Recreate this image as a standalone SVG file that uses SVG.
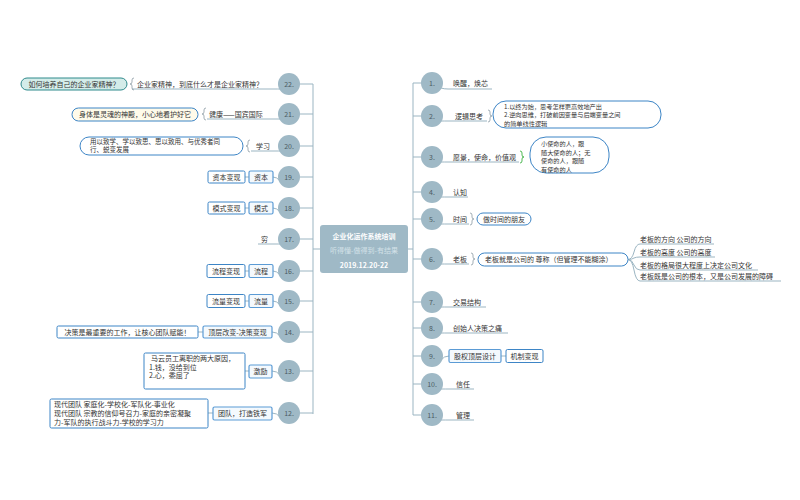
<svg xmlns="http://www.w3.org/2000/svg" width="800" height="500" viewBox="0 0 800 500">
<style>
text{font-family:"Noto Sans CJK SC","Liberation Sans",sans-serif;font-size:7px;fill:#333;}
.sm{font-size:6.5px;}
.xs{font-size:6.2px;}
.num{fill:#4c5b63;font-size:7px;text-anchor:middle;}
.c{fill:#9fb9c6;}
.ln{fill:none;stroke:#9bb5c2;stroke-width:1;}
.br{fill:none;stroke:#8a9aa3;stroke-width:0.8;}
.gbr{fill:none;stroke:#3cb043;stroke-width:0.9;}
.box{fill:#f4f9fd;stroke:#5b9bd5;stroke-width:1.2;}
.cbox{fill:#fff;stroke:#3d85c6;stroke-width:1;}
.bub{fill:#fff;stroke:#3d85c6;stroke-width:1;}
.mid{text-anchor:middle;}
.end{text-anchor:end;}
</style>
<rect width="800" height="500" fill="#fff"/>

<g id="connectors">
  <path class="ln" d="M313 84 V414 M320 249 H313 M408 249 H413 M413 83 V415"/>
  <path class="ln" d="M313 84 H300 M313 114 H300 M313 146 H300 M313 177 H300 M313 208 H300 M313 239 H300 M313 271 H300 M313 301 H300 M313 332 H300 M313 371 H300 M313 413 H300"/>
  <path class="ln" d="M413 83 H421 M413 116 H421 M413 157 H421 M413 192 H421 M413 219 H421 M413 259 H421 M413 302 H421 M413 328 H421 M413 356 H421 M413 384 H421 M413 415 H421"/>
  <path class="ln" d="M281 89 Q278 89 274 89 H132"/>
  <path class="ln" d="M281 119 Q278 119 275 119 H207"/>
  <path class="ln" d="M281 151 Q278 151 276 151 H251"/>
  <path class="ln" d="M280 181 Q277 177 273 177"/>
  <path class="ln" d="M280 212 Q277 208 273 208"/>
  <path class="ln" d="M281 244 Q278 244 276 244 H258"/>
  <path class="ln" d="M280 275 Q277 271 273 271"/>
  <path class="ln" d="M280 305 Q277 301 273 301"/>
  <path class="ln" d="M280 336 Q277 332 272 332"/>
  <path class="ln" d="M280 375 Q277 371 272 371"/>
  <path class="ln" d="M280 417 Q277 413 272 413"/>
  <path class="ln" d="M249 177 H245 M249 208 H245 M249 271 H245 M249 301 H245 M203 332 H198 M249 371 H245 M213 413 H208"/>
  <path class="ln" d="M441 88 Q444 89 448 89 H492"/>
  <path class="ln" d="M441 121 Q444 121 448 121 H487"/>
  <path class="ln" d="M441 162 Q444 162 448 162 H519"/>
  <path class="ln" d="M441 197 Q444 197 448 197 H468"/>
  <path class="ln" d="M441 224 Q444 224 448 224 H469"/>
  <path class="ln" d="M441 264 Q444 264 448 264 H469"/>
  <path class="ln" d="M441 307 Q444 307 448 307 H486"/>
  <path class="ln" d="M441 333 Q444 333 448 333 H508"/>
  <path class="ln" d="M441 360 Q444 356 449 356"/>
  <path class="ln" d="M441 389 Q445 389 450 389 H474"/>
  <path class="ln" d="M441 420 Q445 420 450 420 H474"/>
  <path class="ln" d="M501 356 H506"/>
  <path class="ln" d="M628 259.5 Q632 259.5 634 252 Q636 244 640 244 H714"/>
  <path class="ln" d="M628 259.5 Q632 259.5 634 258 Q636 257 640 257 H715"/>
  <path class="ln" d="M628 259.5 Q632 259.5 634 265 Q636 270 640 270 H758"/>
  <path class="ln" d="M628 259.5 Q632 259.5 634 270 Q636 281 640 281 H781"/>
  <path class="br" d="M134 78 q-2 0 -2 2 v2 q0 2 -2 2 q2 0 2 2 v2 q0 2 2 2"/>
  <path class="br" d="M206 108 q-2 0 -2 2 v2 q0 2 -2 2 q2 0 2 2 v2 q0 2 2 2"/>
  <path class="br" d="M250 140 q-2 0 -2 2 v2 q0 2 -2 2 q2 0 2 2 v2 q0 2 2 2"/>
  <path class="br" d="M488 110 q2 0 2 2 v2 q0 2 2 2 q-2 0 -2 2 v2 q0 2 -2 2"/>
  <path class="gbr" d="M520 151 q2 0 2 2 v2 q0 2 2 2 q-2 0 -2 2 v2 q0 2 -2 2"/>
  <path class="br" d="M470 213 q2 0 2 2 v2 q0 2 2 2 q-2 0 -2 2 v2 q0 2 -2 2"/>
  <path class="br" d="M471 253 q2 0 2 2 v2 q0 2 2 2 q-2 0 -2 2 v2 q0 2 -2 2"/>
</g>

<g id="center">
  <rect x="320" y="225" width="88" height="48" rx="3" fill="#9fb9c6"/>
  <text x="364" y="238.5" class="mid" style="fill:#fff;font-weight:bold;">企业化运作系统培训</text>
  <text x="364" y="253" class="mid" style="fill:#d3e1e8;">听得懂-做得到-有结果</text>
  <text x="364" y="268" class="mid" style="fill:#fff;font-weight:bold;">2019.12.20-22</text>
</g>

<g id="n22">
  <circle class="c" cx="289" cy="84" r="11"/><text class="num" x="289" y="86.5">22.</text>
  <text x="137" y="86.5">企业家精神，到底什么才是企业家精神？</text>
  <rect x="21" y="78" width="106" height="12" rx="6" fill="#d4ece9" stroke="#2f8a8c" stroke-width="1"/>
  <text x="74" y="86.5" class="mid">如何培养自己的企业家精神？</text>
</g>
<g id="n21">
  <circle class="c" cx="289" cy="114" r="11"/><text class="num" x="289" y="116.5">21.</text>
  <text x="209" y="116.5">健康——国宾国际</text>
  <rect x="72" y="108" width="126" height="13" rx="6.5" fill="#fffbea" stroke="#3d85c6" stroke-width="1"/>
  <text x="135" y="117" class="mid">身体是灵魂的神殿，小心地看护好它</text>
</g>
<g id="n20">
  <circle class="c" cx="289" cy="146" r="11"/><text class="num" x="289" y="148.5">20.</text>
  <text x="256" y="148.5">学习</text>
  <rect class="bub" x="80" y="137" width="163" height="18" rx="9"/>
  <text class="sm"><tspan x="90" y="143.5">用以致学、学以致思、思以致用、与优秀者同</tspan><tspan x="90" y="152">行、蜕变发展</tspan></text>
</g>
<g id="n19">
  <circle class="c" cx="289" cy="177" r="11"/><text class="num" x="289" y="179.5">19.</text>
  <rect class="box" x="249" y="171" width="24" height="12" rx="1.5"/><text x="261" y="179.5" class="mid">资本</text>
  <rect class="cbox" x="208" y="171" width="37" height="12" rx="1.5"/><text x="226.5" y="179.5" class="mid">资本变现</text>
</g>
<g id="n18">
  <circle class="c" cx="289" cy="208" r="11"/><text class="num" x="289" y="210.5">18.</text>
  <rect class="box" x="249" y="202" width="24" height="12" rx="1.5"/><text x="261" y="210.5" class="mid">模式</text>
  <rect class="cbox" x="208" y="202" width="37" height="12" rx="1.5"/><text x="226.5" y="210.5" class="mid">模式变现</text>
</g>
<g id="n17">
  <circle class="c" cx="289" cy="239" r="11"/><text class="num" x="289" y="241.5">17.</text>
  <text x="261" y="241.5">穷</text>
</g>
<g id="n16">
  <circle class="c" cx="289" cy="271" r="11"/><text class="num" x="289" y="273.5">16.</text>
  <rect class="box" x="249" y="264.5" width="24" height="13" rx="1.5"/><text x="261" y="273.5" class="mid">流程</text>
  <rect class="cbox" x="207" y="264.5" width="38" height="13" rx="1.5"/><text x="226" y="273.5" class="mid">流程变现</text>
</g>
<g id="n15">
  <circle class="c" cx="289" cy="301" r="11"/><text class="num" x="289" y="303.5">15.</text>
  <rect class="box" x="249" y="294.5" width="24" height="13" rx="1.5"/><text x="261" y="303.5" class="mid">流量</text>
  <rect class="cbox" x="207" y="294.5" width="38" height="13" rx="1.5"/><text x="226" y="303.5" class="mid">流量变现</text>
</g>
<g id="n14">
  <circle class="c" cx="289" cy="332" r="11"/><text class="num" x="289" y="334.5">14.</text>
  <rect class="box" x="203" y="326" width="69" height="12" rx="1.5"/><text x="237.5" y="334.5" class="mid">顶层改变-决策变现</text>
  <rect class="cbox" x="57" y="326" width="141" height="12" rx="1.5"/><text x="127.5" y="334.5" class="mid">决策是最重要的工作，让核心团队赋能！</text>
</g>
<g id="n13">
  <circle class="c" cx="289" cy="371" r="11"/><text class="num" x="289" y="373.5">13.</text>
  <rect class="box" x="249" y="365" width="23" height="13" rx="1.5"/><text x="260.5" y="374" class="mid">激励</text>
  <rect class="cbox" x="144" y="353" width="101" height="36" rx="1.5"/>
  <text><tspan x="151" y="361">马云员工离职的两大原因，</tspan><tspan x="149" y="369.5">1.钱，没给到位</tspan><tspan x="149" y="378">2.心，委屈了</tspan></text>
</g>
<g id="n12">
  <circle class="c" cx="289" cy="413" r="11"/><text class="num" x="289" y="415.5">12.</text>
  <rect class="box" x="213" y="407" width="59" height="13" rx="1.5"/><text x="242.5" y="416" class="mid">团队，打造铁军</text>
  <rect class="cbox" x="50" y="399" width="158" height="29" rx="1.5"/>
  <text><tspan x="54" y="407">现代团队 家庭化-学校化-军队化-事业化</tspan><tspan x="54" y="416">现代团队 宗教的信仰号召力-家庭的亲密凝聚</tspan><tspan x="54" y="425">力-军队的执行战斗力-学校的学习力</tspan></text>
</g>

<g id="n1">
  <circle class="c" cx="432" cy="83" r="11"/><text class="num" x="432" y="85.5">1.</text>
  <text x="453" y="86">唤醒，焕芯</text>
</g>
<g id="n2">
  <circle class="c" cx="432" cy="116" r="11"/><text class="num" x="432" y="118.5">2.</text>
  <text x="455" y="118.5">逻辑思考</text>
  <rect class="bub" x="493" y="101" width="168" height="27" rx="13"/>
  <text class="xs"><tspan x="504" y="108.5">1.以终为始，思考怎样更高效地产出</tspan><tspan x="504" y="117">2.逆向思维，打破前因变量与后端变量之间</tspan><tspan x="504" y="125.5">的简单线性逻辑</tspan></text>
</g>
<g id="n3">
  <circle class="c" cx="432" cy="157" r="11"/><text class="num" x="432" y="159.5">3.</text>
  <text x="453" y="159.5">愿景，使命，价值观</text>
  <rect class="bub" x="530" y="137" width="79" height="36" rx="16"/>
  <text class="xs"><tspan x="541" y="146">小使命的人，跟</tspan><tspan x="541" y="154.5">随大使命的人；无</tspan><tspan x="541" y="163">使命的人，跟随</tspan><tspan x="541" y="171.5">有使命的人</tspan></text>
</g>
<g id="n4">
  <circle class="c" cx="432" cy="192" r="11"/><text class="num" x="432" y="194.5">4.</text>
  <text x="453" y="194.5">认知</text>
</g>
<g id="n5">
  <circle class="c" cx="432" cy="219" r="11"/><text class="num" x="432" y="221.5">5.</text>
  <text x="453" y="221.5">时间</text>
  <rect class="bub" x="477" y="213" width="54" height="12" rx="6"/>
  <text x="504" y="221.5" class="mid">做时间的朋友</text>
</g>
<g id="n6">
  <circle class="c" cx="432" cy="259" r="11"/><text class="num" x="432" y="261.5">6.</text>
  <text x="453" y="261.5">老板</text>
  <rect class="bub" x="478" y="253" width="150" height="13" rx="6.5"/>
  <text x="485" y="262">老板就是公司的 尊称（但管理不能糊涂）</text>
  <text x="640" y="242">老板的方向 公司的方向</text>
  <text x="640" y="255">老板的高度 公司的高度</text>
  <text x="640" y="268">老板的格局很大程度上决定公司文化</text>
  <text x="640" y="279">老板既是公司的根本，又是公司发展的障碍</text>
</g>
<g id="n7">
  <circle class="c" cx="432" cy="302" r="11"/><text class="num" x="432" y="304.5">7.</text>
  <text x="453" y="304.5">交易结构</text>
</g>
<g id="n8">
  <circle class="c" cx="432" cy="328" r="11"/><text class="num" x="432" y="330.5">8.</text>
  <text x="453" y="330.5">创始人决策之痛</text>
</g>
<g id="n9">
  <circle class="c" cx="432" cy="356" r="11"/><text class="num" x="432" y="358.5">9.</text>
  <rect class="box" x="449" y="349.5" width="52" height="13" rx="1.5"/><text x="475" y="358.5" class="mid">股权顶层设计</text>
  <rect class="cbox" x="506" y="349.5" width="37" height="13" rx="1.5"/><text x="524.5" y="358.5" class="mid">机制变现</text>
</g>
<g id="n10">
  <circle class="c" cx="432" cy="384" r="11"/><text class="num" x="432" y="386.5">10.</text>
  <text x="456" y="386.5">信任</text>
</g>
<g id="n11">
  <circle class="c" cx="432" cy="415" r="11"/><text class="num" x="432" y="417.5">11.</text>
  <text x="456" y="417.5">管理</text>
</g>
</svg>
